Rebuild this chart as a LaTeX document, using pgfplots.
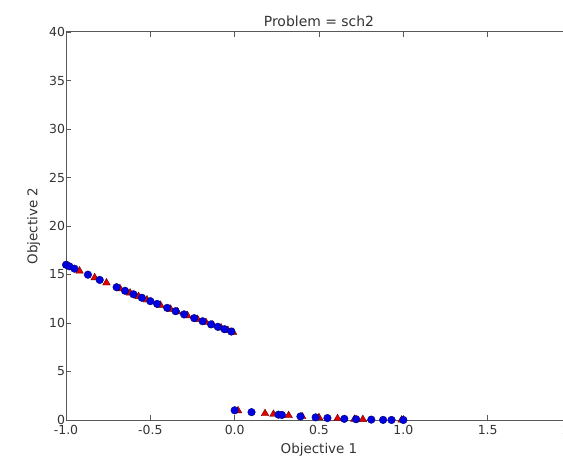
\documentclass[border=0pt]{standalone}
\usepackage{pgfplots}
\pgfplotsset{compat=1.18}
\usepackage{fontspec}
\setmainfont{DejaVu Sans}
\begin{document}
\begin{tikzpicture}
\begin{axis}[
  scale only axis,
  width=506bp, height=388bp,
  xmin=-1, xmax=2, ymin=0, ymax=40,
  xtick={-1,-0.5,0,0.5,1,1.5,2},
  ytick={0,5,10,15,20,25,30,35,40},
  xticklabel style={yshift=-2bp, /pgf/number format/.cd,fixed,fixed zerofill,precision=1},
  /pgf/number format/assume math mode=true,
  tick label style={font=\fontsize{12.5}{14}\selectfont, color=black!80},
  label style={font=\fontsize{13.5}{15}\selectfont, color=black!80},
  title style={font=\fontsize{14}{16}\selectfont, color=black!80, yshift=-4bp},
  title={Problem = sch2},
  xlabel={Objective 1}, ylabel={Objective 2},
  tick align=inside, major tick length=5bp,
  axis line style={black!65, line width=1pt},
  tick style={black!65, line width=0.7pt},
  yticklabel style={xshift=2.5bp},
  xlabel style={yshift=-1.5bp}, ylabel style={yshift=2bp},
  clip=false,
]
\coordinate (sw) at (rel axis cs:0,0);
\addplot[only marks, mark=triangle*, mark size=4.4bp, mark options={fill=red!90!black, draw=black!60!red, line width=0.4pt}] coordinates {
(-0.99,15.92) (-0.92,15.37) (-0.83,14.67) (-0.76,14.14) (-0.68,13.54) (-0.62,13.10)
(-0.57,12.74) (-0.52,12.39) (-0.44,11.83) (-0.38,11.42) (-0.34,11.16) (-0.28,10.76)
(-0.22,10.37) (-0.17,10.05) (-0.13,9.80) (-0.08,9.49) (-0.04,9.24) (-0.01,9.06)
(0.02,0.96) (0.18,0.67) (0.23,0.59) (0.32,0.46) (0.40,0.36) (0.50,0.25)
(0.61,0.15) (0.71,0.08) (0.76,0.06) (0.99,0.0)
};
\addplot[only marks, mark=*, mark size=3.8bp, mark options={fill=blue!90!black, draw=black!60!blue, line width=0.4pt}] coordinates {
(-1.00,16.00) (-0.98,15.84) (-0.95,15.60) (-0.87,14.98) (-0.80,14.44) (-0.70,13.69)
(-0.65,13.32) (-0.60,12.96) (-0.55,12.60) (-0.50,12.25) (-0.46,11.97) (-0.40,11.56)
(-0.35,11.22) (-0.30,10.89) (-0.24,10.50) (-0.19,10.18) (-0.14,9.86) (-0.10,9.61)
(-0.06,9.36) (-0.02,9.12)
(0.00,1.00) (0.10,0.81) (0.26,0.55) (0.28,0.52) (0.39,0.37) (0.48,0.27)
(0.55,0.20) (0.65,0.12) (0.72,0.08) (0.81,0.04) (0.88,0.01) (0.93,0.005) (1.00,0.0)
};
\end{axis}
\pgfresetboundingbox
\path (sw) ++(-66bp,-46bp) rectangle ++(563bp,466bp);
\end{tikzpicture}
\end{document}
